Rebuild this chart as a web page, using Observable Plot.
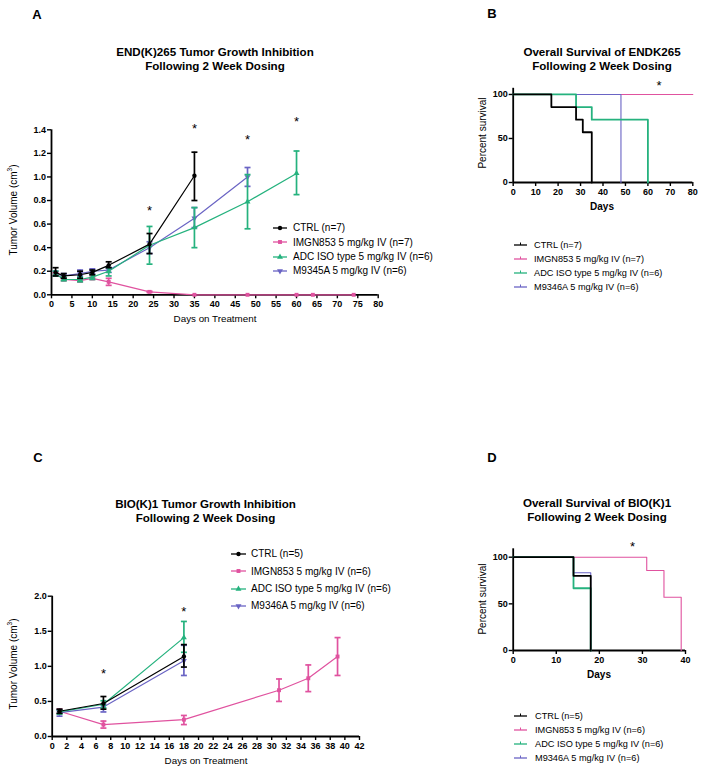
<!DOCTYPE html>
<html>
<head>
<meta charset="utf-8">
<script src="https://cdn.jsdelivr.net/npm/d3@7"></script>
<script src="https://cdn.jsdelivr.net/npm/@observablehq/plot@0.6"></script>
<style>
html,body{margin:0;padding:0;background:#fff;}
#root{position:relative;width:704px;height:772px;overflow:hidden;font-family:"Liberation Sans",Arial,sans-serif;color:#000;}
#root svg{position:absolute;display:block;background:transparent;overflow:visible;}
.abs{position:absolute;white-space:nowrap;z-index:2;}
.title{font-weight:bold;font-size:11.6px;line-height:14px;text-align:center;transform:translateX(-50%);}
.letter{font-weight:bold;font-size:13px;transform:translate(-50%,-50%);}
.ylab{font-size:10px;transform:translate(-50%,-50%) rotate(-90deg);}
.xlab{font-size:9.8px;transform:translate(-50%,-50%);}
.xlabb{font-size:10px;font-weight:bold;transform:translate(-50%,-50%);}
.legend .row{display:flex;align-items:center;}
.legend svg{position:static !important;}
sup{font-size:65%;line-height:0;}
</style>
</head>
<body>
<div id="root"></div>
<script>
// ---------------- DATA ----------------
// Panel A: END(K)265 tumor growth (days on treatment, mean volume cm3, error bar low / high)
const aLegendLabels = ["CTRL (n=7)", "IMGN853 5 mg/kg IV (n=7)", "ADC ISO type 5 mg/kg IV (n=6)", "M9345A 5 mg/kg IV (n=6)"];
const aCtrlDay  = [1, 3, 7, 10, 14, 24, 35];
const aCtrlMean = [0.19, 0.16, 0.17, 0.19, 0.25, 0.43, 1.01];
const aCtrlLo   = [0.16, 0.14, 0.14, 0.17, 0.23, 0.35, 0.80];
const aCtrlHi   = [0.23, 0.18, 0.20, 0.21, 0.28, 0.52, 1.21];
const aImgnDay  = [1, 3, 7, 10, 14, 24, 35, 48, 60, 64, 74];
const aImgnMean = [0.18, 0.13, 0.12, 0.14, 0.11, 0.025, 0, 0, 0, 0, 0];
const aImgnLo   = [0.17, 0.12, 0.11, 0.13, 0.08, 0.02, 0, 0, 0, 0, 0];
const aImgnHi   = [0.19, 0.14, 0.13, 0.15, 0.14, 0.03, 0, 0, 0, 0, 0];
const aAdcDay   = [1, 3, 7, 10, 14, 24, 35, 48, 60];
const aAdcMean  = [0.18, 0.13, 0.13, 0.15, 0.20, 0.42, 0.57, 0.79, 1.03];
const aAdcLo    = [0.16, 0.12, 0.11, 0.13, 0.16, 0.26, 0.40, 0.56, 0.85];
const aAdcHi    = [0.20, 0.15, 0.15, 0.17, 0.23, 0.58, 0.74, 1.02, 1.22];
const aM93Day   = [1, 3, 7, 10, 14, 24, 35, 48];
const aM93Mean  = [0.18, 0.16, 0.18, 0.20, 0.21, 0.40, 0.65, 1.00];
const aM93Lo    = [0.16, 0.14, 0.16, 0.18, 0.19, 0.35, 0.57, 0.92];
const aM93Hi    = [0.20, 0.18, 0.21, 0.22, 0.23, 0.45, 0.74, 1.08];
const aStarDay  = [24, 35, 48, 60];
const aStarY    = [0.74, 1.43, 1.34, 1.49];
const aXTicks   = [0, 5, 10, 15, 20, 25, 30, 35, 40, 45, 50, 55, 60, 65, 70, 75, 80];
const aYTicks   = [0, 0.2, 0.4, 0.6, 0.8, 1.0, 1.2, 1.4];

// Panel B: END(K)265 overall survival (day, percent survival)
const bLegendLabels = ["CTRL (n=7)", "IMGN853 5 mg/kg IV (n=7)", "ADC ISO type 5 mg/kg IV (n=6)", "M9346A 5 mg/kg IV (n=6)"];
const bCtrlDay  = [0, 17, 28, 31, 35];
const bCtrlSurv = [100, 85.7, 71.4, 57.1, 0];
const bImgnDay  = [0, 80];
const bImgnSurv = [100, 100];
const bAdcDay   = [0, 28, 35, 60];
const bAdcSurv  = [100, 85.7, 71.4, 0];
const bM93Day   = [0, 48];
const bM93Surv  = [100, 0];
const bStarDay  = [65];
const bStarY    = [113];
const bXTicks   = [0, 10, 20, 30, 40, 50, 60, 70, 80];
const bYTicks   = [0, 50, 100];

// Panel C: BIO(K)1 tumor growth
const cLegendLabels = ["CTRL (n=5)", "IMGN853 5 mg/kg IV (n=6)", "ADC ISO type 5 mg/kg IV (n=6)", "M9346A 5 mg/kg IV (n=6)"];
const cCtrlDay  = [1, 7, 18];
const cCtrlMean = [0.36, 0.47, 1.14];
const cCtrlLo   = [0.33, 0.39, 0.99];
const cCtrlHi   = [0.39, 0.57, 1.31];
const cImgnDay  = [1, 7, 18, 31, 35, 39];
const cImgnMean = [0.36, 0.17, 0.24, 0.66, 0.83, 1.14];
const cImgnLo   = [0.33, 0.12, 0.17, 0.50, 0.64, 0.87];
const cImgnHi   = [0.39, 0.22, 0.30, 0.82, 1.02, 1.41];
const cAdcDay   = [1, 7, 18];
const cAdcMean  = [0.35, 0.46, 1.41];
const cAdcLo    = [0.32, 0.41, 1.20];
const cAdcHi    = [0.38, 0.51, 1.64];
const cM93Day   = [1, 7, 18];
const cM93Mean  = [0.34, 0.42, 1.08];
const cM93Lo    = [0.29, 0.35, 0.87];
const cM93Hi    = [0.37, 0.46, 1.30];
const cStarDay  = [7, 18];
const cStarY    = [0.94, 1.82];
const cXTicks   = [0, 2, 4, 6, 8, 10, 12, 14, 16, 18, 20, 22, 24, 26, 28, 30, 32, 34, 36, 38, 40, 42];
const cYTicks   = [0, 0.5, 1.0, 1.5, 2.0];

// Panel D: BIO(K)1 overall survival
const dLegendLabels = ["CTRL (n=5)", "IMGN853 5 mg/kg IV (n=6)", "ADC ISO type 5 mg/kg IV (n=6)", "M9346A 5 mg/kg IV (n=6)"];
const dCtrlDay  = [0, 14, 18];
const dCtrlSurv = [100, 80, 0];
const dImgnDay  = [0, 31, 35, 39];
const dImgnSurv = [100, 85.7, 57.1, 0];
const dAdcDay   = [0, 14, 18];
const dAdcSurv  = [100, 66.7, 0];
const dM93Day   = [0, 14, 18];
const dM93Surv  = [100, 83.3, 0];
const dStarDay  = [27.7];
const dStarY    = [114];
const dXTicks   = [0, 10, 20, 30, 40];
const dYTicks   = [0, 50, 100];

// ---------------- STYLE ----------------
const COL = {ctrl: "#000000", imgn: "#E0529F", adc: "#25B27E", m93: "#6A64C4"};
const SW = {ctrl: 1.8, imgn: 1.1, adc: 1.8, m93: 1.1};
const FONT = "'Liberation Sans', Arial, sans-serif";
const sqrt3 = Math.sqrt(3);
const capSymbol = {draw(ctx, size) { const w = Math.sqrt(size / Math.PI); ctx.moveTo(-w, 0); ctx.lineTo(w, 0); }};
const triDown = {draw(ctx, size) { const y = -Math.sqrt(size / (sqrt3 * 3)); ctx.moveTo(0, -y * 2); ctx.lineTo(-sqrt3 * y, y); ctx.lineTo(sqrt3 * y, y); ctx.closePath(); }};
const SYM = {ctrl: "circle", imgn: "square", adc: "triangle", m93: triDown};

const root = document.getElementById("root");
function place(el, left, top) { el.style.left = left + "px"; el.style.top = top + "px"; root.appendChild(el); return el; }
function div(cls, html, left, top) { const d = document.createElement("div"); d.className = "abs " + cls; d.innerHTML = html; return place(d, left, top); }

function rows(days, mean, lo, hi) { return days.map((d, i) => ({day: d, v: mean[i], lo: lo[i], hi: hi[i]})); }
function srows(days, surv) { return days.map((d, i) => ({day: d, s: surv[i]})); }
function stars(days, ys) { return days.map((d, i) => ({day: d, y: ys[i]})); }

function axes(xTicks, yTicks, yFormat) {
  return [
    Plot.axisX(xTicks, {tickSize: 4, tickPadding: 2, label: null, fontSize: 9, strokeWidth: 1.4}),
    Plot.axisY(yTicks, {tickSize: 4, tickPadding: 1.5, label: null, fontSize: 9, strokeWidth: 1.4, tickFormat: yFormat}),
    Plot.ruleY([0], {strokeWidth: 1.8}),
    Plot.ruleX([0], {strokeWidth: 1.8})
  ];
}

function growthPlot(o) {
  const marks = [...axes(o.xTicks, o.yTicks, o.yFormat)];
  for (const g of o.groups) {
    const eb = g.data.filter(d => d.hi > d.lo);
    marks.push(Plot.line(g.data, {x: "day", y: "v", stroke: g.color, strokeWidth: 1.2}));
    marks.push(Plot.ruleX(eb, {x: "day", y1: "lo", y2: "hi", stroke: g.color, strokeWidth: 1.7}));
    marks.push(Plot.dot(eb, {x: "day", y: "lo", symbol: capSymbol, r: 3, stroke: g.color, strokeWidth: 1.7}));
    marks.push(Plot.dot(eb, {x: "day", y: "hi", symbol: capSymbol, r: 3, stroke: g.color, strokeWidth: 1.7}));
    marks.push(Plot.dot(g.data, {x: "day", y: "v", symbol: g.symbol, r: 2.2, fill: g.color, stroke: "none"}));
  }
  marks.push(Plot.text(o.stars, {x: "day", y: "y", text: () => "*", fontSize: 13, fontWeight: "normal", dy: 3}));
  return Plot.plot({
    width: o.width, height: o.height,
    marginLeft: o.ml, marginRight: o.mr, marginTop: o.mt, marginBottom: o.mb,
    x: {domain: o.xDomain}, y: {domain: o.yDomain},
    style: {fontFamily: FONT, fontSize: "9px", fontWeight: "bold", color: "#000", background: "transparent", overflow: "visible"},
    marks
  });
}

function survPlot(o) {
  const marks = [...axes(o.xTicks, o.yTicks, d3.format("d"))];
  for (const g of o.groups) {
    marks.push(Plot.line(g.data, {x: "day", y: "s", curve: "step-after", stroke: g.color, strokeWidth: g.width}));
  }
  marks.push(Plot.text(o.stars, {x: "day", y: "y", text: () => "*", fontSize: 13, fontWeight: "normal", dy: 3}));
  return Plot.plot({
    width: o.width, height: o.height,
    marginLeft: o.ml, marginRight: o.mr, marginTop: o.mt, marginBottom: o.mb,
    x: {domain: o.xDomain}, y: {domain: o.yDomain},
    style: {fontFamily: FONT, fontSize: "9px", fontWeight: "bold", color: "#000", background: "transparent", overflow: "visible"},
    marks
  });
}

function legend(labels, keys, left, top, rowH, swW, gap, fontSize, kind) {
  const box = document.createElement("div");
  box.className = "abs legend";
  box.style.fontSize = fontSize + "px";
  labels.forEach((lab, i) => {
    const k = keys[i];
    const row = document.createElement("div");
    row.className = "row";
    row.style.height = rowH + "px";
    const svg = d3.create("svg").attr("width", swW).attr("height", 10).style("margin-right", gap + "px");
    svg.append("line").attr("x1", 0).attr("x2", swW).attr("y1", 5).attr("y2", 5).attr("stroke", COL[k]).attr("stroke-width", 1.3);
    if (kind === "marker") {
      const sym = SYM[k];
      const type = sym === "circle" ? d3.symbolCircle : sym === "square" ? d3.symbolSquare : sym === "triangle" ? d3.symbolTriangle : sym;
      svg.append("path").attr("d", d3.symbol(type, Math.PI * 2.2 * 2.2)()).attr("transform", `translate(${swW / 2},5)`).attr("fill", COL[k]);
    } else {
      svg.append("line").attr("x1", swW / 2).attr("x2", swW / 2).attr("y1", 2.5).attr("y2", 5).attr("stroke", COL[k]).attr("stroke-width", 1);
    }
    row.appendChild(svg.node());
    const t = document.createElement("span");
    t.textContent = lab;
    row.appendChild(t);
    box.appendChild(row);
  });
  return place(box, left, top);
}

const keys = ["ctrl", "imgn", "adc", "m93"];

// ---------------- PANEL A ----------------
const A = growthPlot({
  width: 400, height: 235, ml: 51, mr: 22.3, mt: 24.3, mb: 45.7,
  xDomain: [0, 80], yDomain: [0, 1.4], xTicks: aXTicks, yTicks: aYTicks, yFormat: d3.format(".1f"),
  groups: [
    {data: rows(aM93Day, aM93Mean, aM93Lo, aM93Hi), color: COL.m93, symbol: SYM.m93},
    {data: rows(aImgnDay, aImgnMean, aImgnLo, aImgnHi), color: COL.imgn, symbol: SYM.imgn},
    {data: rows(aAdcDay, aAdcMean, aAdcLo, aAdcHi), color: COL.adc, symbol: SYM.adc},
    {data: rows(aCtrlDay, aCtrlMean, aCtrlLo, aCtrlHi), color: COL.ctrl, symbol: SYM.ctrl}
  ],
  stars: stars(aStarDay, aStarY)
});
place(A, 0, 105);

// ---------------- PANEL B ----------------
const B = survPlot({
  width: 264, height: 130, ml: 72.7, mr: 11.7, mt: 17.8, mb: 18,
  xDomain: [0, 80], yDomain: [0, 107], xTicks: bXTicks, yTicks: bYTicks,
  groups: [
    {data: srows(bImgnDay, bImgnSurv), color: COL.imgn, width: SW.imgn},
    {data: srows(bM93Day, bM93Surv), color: COL.m93, width: SW.m93},
    {data: srows(bAdcDay, bAdcSurv), color: COL.adc, width: SW.adc},
    {data: srows(bCtrlDay, bCtrlSurv), color: COL.ctrl, width: SW.ctrl}
  ],
  stars: stars(bStarDay, bStarY)
});
place(B, 440, 70);

// ---------------- PANEL C ----------------
const C = growthPlot({
  width: 400, height: 200, ml: 51.7, mr: 41, mt: 35.7, mb: 24,
  xDomain: [0, 42], yDomain: [0, 2], xTicks: cXTicks, yTicks: cYTicks, yFormat: d3.format(".1f"),
  groups: [
    {data: rows(cImgnDay, cImgnMean, cImgnLo, cImgnHi), color: COL.imgn, symbol: SYM.imgn},
    {data: rows(cM93Day, cM93Mean, cM93Lo, cM93Hi), color: COL.m93, symbol: SYM.m93},
    {data: rows(cAdcDay, cAdcMean, cAdcLo, cAdcHi), color: COL.adc, symbol: SYM.adc},
    {data: rows(cCtrlDay, cCtrlMean, cCtrlLo, cCtrlHi), color: COL.ctrl, symbol: SYM.ctrl}
  ],
  stars: stars(cStarDay, cStarY)
});
place(C, 0, 560);

// ---------------- PANEL D ----------------
const D = survPlot({
  width: 264, height: 160, ml: 72.7, mr: 19, mt: 18.3, mb: 40,
  xDomain: [0, 40], yDomain: [0, 109], xTicks: dXTicks, yTicks: dYTicks,
  groups: [
    {data: srows(dImgnDay, dImgnSurv), color: COL.imgn, width: SW.imgn},
    {data: srows(dM93Day, dM93Surv), color: COL.m93, width: SW.m93},
    {data: srows(dAdcDay, dAdcSurv), color: COL.adc, width: SW.adc},
    {data: srows(dCtrlDay, dCtrlSurv), color: COL.ctrl, width: SW.ctrl}
  ],
  stars: stars(dStarDay, dStarY)
});
place(D, 440, 530);

// ---------------- TEXT ----------------
div("letter", "A", 37, 14);
div("letter", "B", 492, 13);
div("letter", "C", 38, 457);
div("letter", "D", 492, 457);

div("title", "END(K)265 Tumor Growth Inhibition<br>Following 2 Week Dosing", 215, 45);
div("title", "Overall Survival of ENDK265<br>Following 2 Week Dosing", 602, 45);
div("title", "BIO(K)1 Tumor Growth Inhibition<br>Following 2 Week Dosing", 205.5, 497);
div("title", "Overall Survival of BIO(K)1<br>Following 2 Week Dosing", 597, 496);

div("ylab", "Tumor Volume (cm<sup>3</sup>)", 13, 210);
div("ylab", "Tumor Volume (cm<sup>3</sup>)", 13, 664);
div("ylab", "Percent survival", 482, 133);
div("ylab", "Percent survival", 482, 599);

div("xlab", "Days on Treatment", 215, 318);
div("xlab", "Days on Treatment", 206, 760);
div("xlabb", "Days", 602, 206);
div("xlabb", "Days", 599, 674);

legend(aLegendLabels, keys, 273, 220.8, 14.3, 14, 6, 10, "marker");
legend(bLegendLabels, keys, 514, 238, 14, 13, 7, 9.2, "tick");
legend(cLegendLabels, keys, 231, 545.3, 17.3, 15, 5, 10, "marker");
legend(dLegendLabels, keys, 514, 709, 14, 13, 8, 9.2, "tick");
</script>
</body>
</html>
